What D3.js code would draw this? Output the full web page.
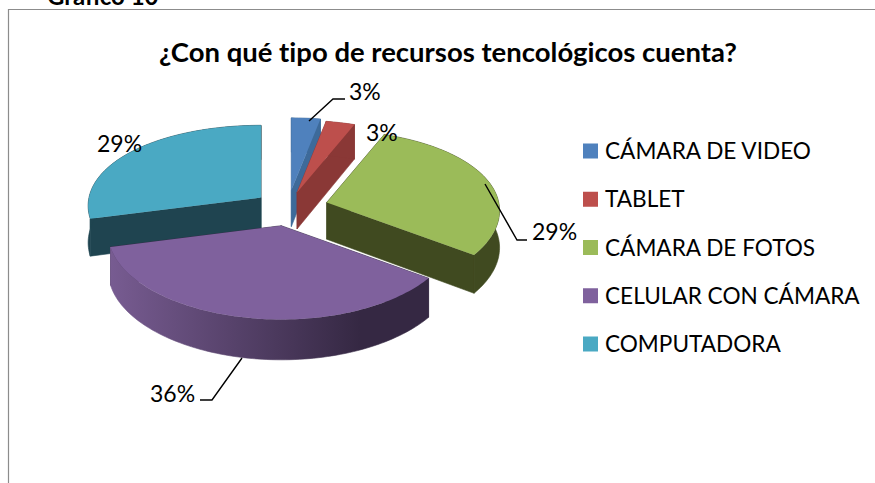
<!DOCTYPE html>
<html><head><meta charset="utf-8">
<script src="https://cdn.jsdelivr.net/npm/d3@7"></script>
<style>html,body{margin:0;padding:0;background:#fff;overflow:hidden}svg{display:block}text{font-family:Lato,Carlito,sans-serif;fill:#000;font-variant-ligatures:none}</style>
</head><body><svg id="c" width="875" height="483"></svg>
<script>
const categories = ["CÁMARA DE VIDEO","TABLET","CÁMARA DE FOTOS","CELULAR CON CÁMARA","COMPUTADORA"];
const values = [3,3,29,36,29];
const topColors = ["#4f81bd","#bd4f4c","#9bbb59","#7f619d","#4aa9c3"];
const wallColors = ["#3d6a9a","#8a3836","#404a20","#352a45","#1f4450"];
const explodeScale = [1,0.9,1.12,1,0.95];
const labelPos = [[349,100],[366,141],[532,240],[150,402],[97,152]];
const leaders = [[[309,121],[333,99],[345,99]],null,[[485,184],[517,240],[527,240]],[[242,358],[212,400],[200,400]],null];

const svg = d3.select("#c");
const cx=288, cy=208, ex=36, ey=18, rx=172, ry=83, k=0.13, kx=0.1;
const depthAt=y=>37+(y-208)*0.03;

svg.append("text").attr("x",47).attr("y",5).attr("font-size",24).attr("font-weight",700).text("Gráfico 10");
svg.append("path").attr("d","M8.5,483V9.5H875").attr("fill","none").attr("stroke","#8c8c8c").attr("stroke-width",1.2);
svg.append("text").attr("x",448).attr("y",62).attr("text-anchor","middle").attr("font-size",27).attr("font-weight",700)
  .attr("textLength",578).attr("lengthAdjust","spacingAndGlyphs")
  .text("¿Con qué tipo de recursos tencológicos cuenta?");

const defs = svg.append("defs");
const grad = defs.append("linearGradient").attr("id","pg").attr("gradientUnits","userSpaceOnUse")
  .attr("x1",108).attr("x2",360).attr("y1",0).attr("y2",0);
grad.append("stop").attr("offset",0).attr("stop-color","#785c92");
grad.append("stop").attr("offset",1).attr("stop-color","#352843");

const arcs = d3.pie().sort(null)(values);
const line = d3.line();
function frame(d,i){
  const m=(d.startAngle+d.endAngle)/2, s=explodeScale[i];
  const ax=cx+ex*s*Math.sin(m), ay=cy-ey*s*Math.cos(m);
  const p=a=>{const u=Math.sin(a),v=-Math.cos(a);return [ax+rx*u*(1+kx*v),ay+ry*v*(1+k*v)];};
  return {ax,ay,p};
}
function arcPts(f,a0,a1){const n=Math.max(4,Math.ceil((a1-a0)*40));return d3.range(n+1).map(j=>f.p(a0+(a1-a0)*j/n));}
const order=[0,1,4,2,3];
order.forEach(i=>{
  const d=arcs[i], f=frame(d,i), g=svg.append("g");
  const fill=i===3?"url(#pg)":wallColors[i];
  const down=pts=>pts.map(q=>[q[0],q[1]+depthAt(q[1])]);
  const radial=a=>{const e=[[f.ax,f.ay],f.p(a)];return e.concat(down(e).reverse());};
  g.append("path").attr("d",line(radial(d.startAngle))+"Z").attr("fill",wallColors[i]).attr("stroke",wallColors[i]).attr("stroke-width",0.6);
  g.append("path").attr("d",line(radial(d.endAngle))+"Z").attr("fill",wallColors[i]).attr("stroke",wallColors[i]).attr("stroke-width",0.6);
  const pts=arcPts(f,d.startAngle,d.endAngle);
  g.append("path").attr("d",line(pts.concat(down(pts).reverse()))+"Z").attr("fill",fill).attr("stroke",fill).attr("stroke-width",0.6);
  g.append("path").attr("d",line([[f.ax,f.ay],...pts])+"Z").attr("fill",topColors[i]);
});

values.forEach((v,i)=>{
  if(leaders[i]) svg.append("path").attr("d",line(leaders[i])).attr("fill","none").attr("stroke","#000").attr("stroke-width",1.4);
  svg.append("text").attr("x",labelPos[i][0]).attr("y",labelPos[i][1]).attr("font-size",23).text(v+"%");
});

const legendY=d3.scalePoint().domain(categories).range([151,344]);
const lg=svg.append("g").selectAll("g").data(categories).join("g").attr("transform",c=>`translate(0,${legendY(c)})`);
lg.append("rect").attr("x",583).attr("y",-7.5).attr("width",15).attr("height",15).attr("fill",(c,i)=>topColors[i]);
lg.append("text").attr("x",605).attr("y",8).attr("font-size",22.6).text(c=>c);
</script></body></html>
